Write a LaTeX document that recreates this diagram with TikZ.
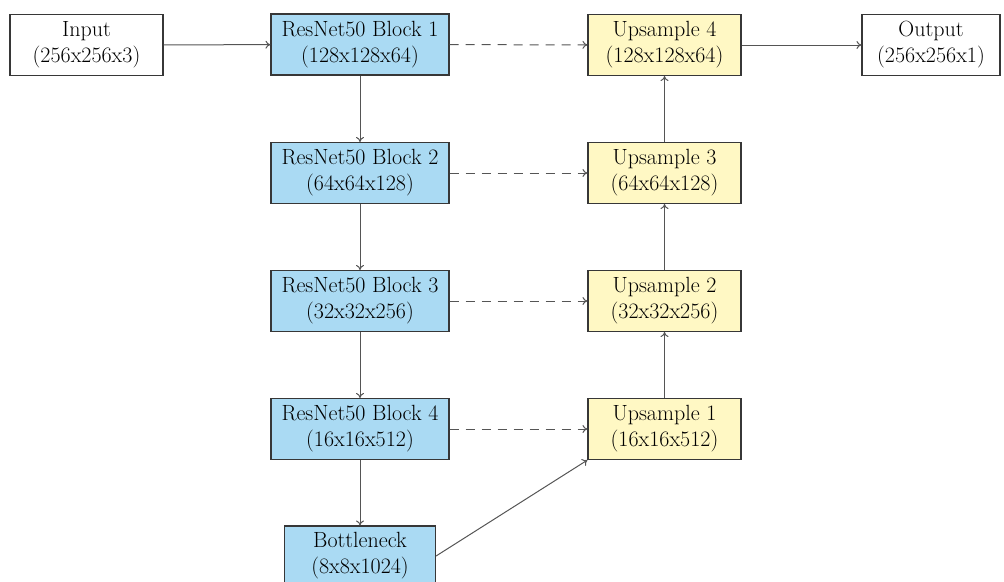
\documentclass[tikz,border=0pt]{standalone}
\usetikzlibrary{arrows.meta}
\definecolor{blockblue}{RGB}{170,218,243}
\definecolor{upyellow}{RGB}{255,248,196}
\definecolor{edge}{RGB}{55,55,55}
\definecolor{conn}{RGB}{85,85,85}
\tikzset{
  box/.style={draw=edge, line width=1.1pt, inner sep=0pt, align=center,
    minimum height=61pt, font=\fontsize{22}{26}\selectfont},
  enc/.style={box, fill=blockblue, minimum width=178pt},
  dec/.style={box, fill=upyellow, minimum width=153pt},
  io/.style={box, fill=white},
  conarrow/.style={draw=conn, line width=1pt, -{To[length=5pt,width=8pt]}},
  skip/.style={conarrow, dash pattern=on 9pt off 7pt}
}
\begin{document}
\begin{tikzpicture}[x=1pt,y=1pt]
\useasboundingbox (0,0) rectangle (1004,-581);
\node[io, minimum width=153pt] (in) at (86.5,-45) {Input\\(256x256x3)};
\node[enc] (b1) at (360,-44.5) {ResNet50 Block 1\\(128x128x64)};
\node[enc] (b2) at (360,-173) {ResNet50 Block 2\\(64x64x128)};
\node[enc] (b3) at (360,-301) {ResNet50 Block 3\\(32x32x256)};
\node[enc] (b4) at (360,-429) {ResNet50 Block 4\\(16x16x512)};
\node[enc, minimum width=151pt, minimum height=60pt] (bn) at (360,-556) {Bottleneck\\(8x8x1024)};
\node[dec] (u4) at (664.5,-45) {Upsample 4\\(128x128x64)};
\node[dec] (u3) at (664.5,-173) {Upsample 3\\(64x64x128)};
\node[dec] (u2) at (664.5,-301) {Upsample 2\\(32x32x256)};
\node[dec] (u1) at (664.5,-429) {Upsample 1\\(16x16x512)};
\node[io, minimum width=138pt] (out) at (931,-45) {Output\\(256x256x1)};

\draw[conarrow] (in) -- (b1);
\draw[conarrow] (b1) -- (b2);
\draw[conarrow] (b2) -- (b3);
\draw[conarrow] (b3) -- (b4);
\draw[conarrow] (b4) -- (bn);
\draw[skip] (b1) -- (u4);
\draw[skip] (b2) -- (u3);
\draw[skip] (b3) -- (u2);
\draw[skip] (b4) -- (u1);
\draw[conarrow] (bn.east) -- (u1.south west);
\draw[conarrow] (u1) -- (u2);
\draw[conarrow] (u2) -- (u3);
\draw[conarrow] (u3) -- (u4);
\draw[conarrow] (u4) -- (out);
\end{tikzpicture}
\end{document}
